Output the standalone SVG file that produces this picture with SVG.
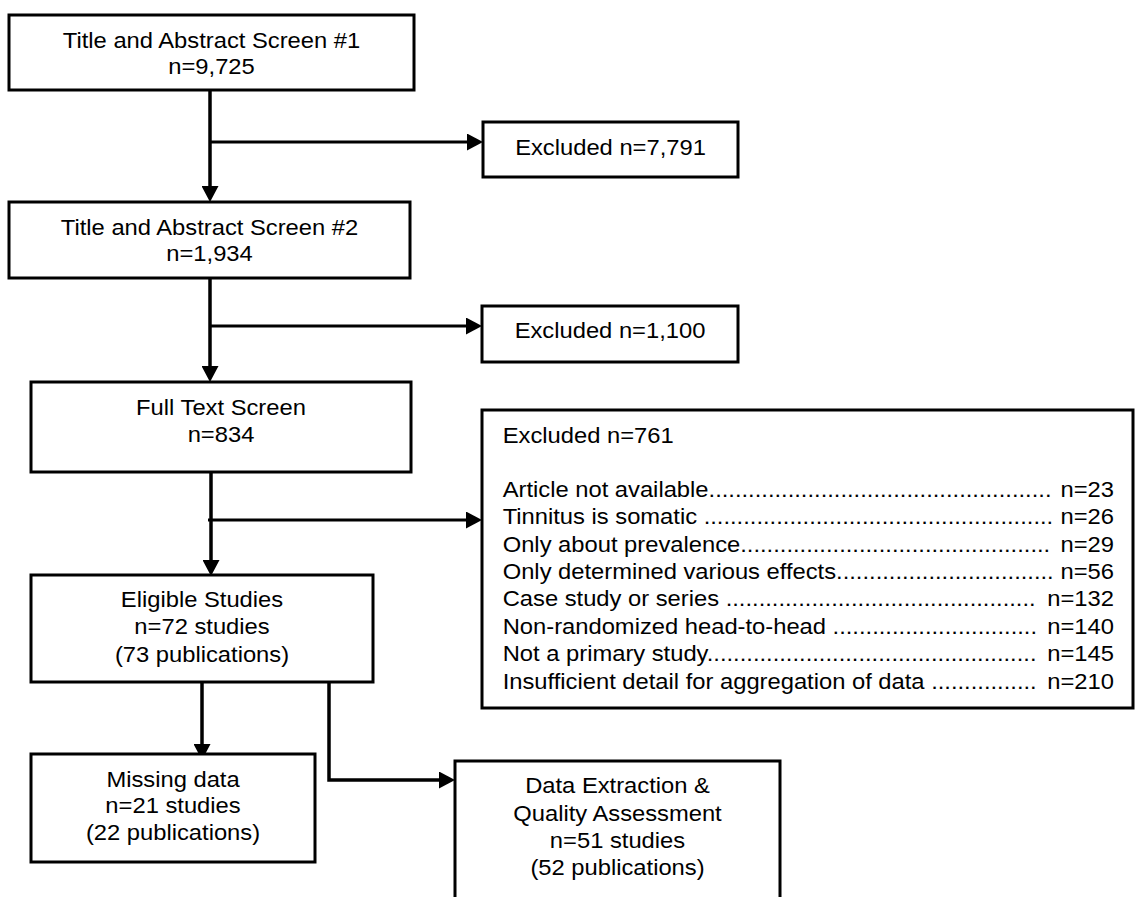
<svg xmlns="http://www.w3.org/2000/svg" width="1136" height="897" viewBox="0 0 1136 897">
<style>
.box { fill: #fff; stroke: #000; stroke-width: 3; }
.t { font-family: "Liberation Sans", Arial, sans-serif; font-size: 22px; fill: #000; }
.c { text-anchor: middle; }
.e { text-anchor: end; }
.conn line, .conn path { stroke: #000; stroke-width: 3.5; fill: none; }
.conn .h { stroke-width: 3; }
</style>
<defs>
<marker id="arr" markerUnits="userSpaceOnUse" markerWidth="16" markerHeight="17" refX="0" refY="8.5" orient="auto" viewBox="0 0 16 17">
<path d="M0,0 L16,8.5 L0,17 z" fill="#000"/>
</marker>
</defs>
<rect x="0" y="0" width="1136" height="897" fill="#fff"/>

<g id="connectors" class="conn">
<line x1="210" y1="91" x2="210" y2="186" marker-end="url(#arr)"/>
<line class="h" x1="209" y1="142" x2="467" y2="142" marker-end="url(#arr)"/>
<line x1="210" y1="279" x2="210" y2="366" marker-end="url(#arr)"/>
<line class="h" x1="209" y1="326" x2="466" y2="326" marker-end="url(#arr)"/>
<line x1="211" y1="473" x2="211" y2="560" marker-end="url(#arr)"/>
<line class="h" x1="208" y1="520" x2="466" y2="520" marker-end="url(#arr)"/>
<line x1="202" y1="682" x2="202" y2="744" marker-end="url(#arr)"/>
<path d="M329,682 V780 H439" marker-end="url(#arr)"/>
</g>

<g id="screen1">
<rect class="box" x="9" y="15" width="405" height="75"/>
<text class="t c" transform="translate(211.5,0) scale(1.08,1)"><tspan x="0" y="48">Title and Abstract Screen #1</tspan><tspan x="0" y="74">n=9,725</tspan></text>
</g>

<g id="excluded1">
<rect class="box" x="483" y="122" width="255" height="55"/>
<text class="t c" transform="translate(610.5,0) scale(1.08,1)" x="0" y="155">Excluded n=7,791</text>
</g>

<g id="screen2">
<rect class="box" x="9" y="202" width="401" height="76"/>
<text class="t c" transform="translate(209.5,0) scale(1.08,1)"><tspan x="0" y="235">Title and Abstract Screen #2</tspan><tspan x="0" y="261.5">n=1,934</tspan></text>
</g>

<g id="excluded2">
<rect class="box" x="482" y="306" width="256" height="56"/>
<text class="t c" transform="translate(610,0) scale(1.08,1)" x="0" y="338.5">Excluded n=1,100</text>
</g>

<g id="fulltext">
<rect class="box" x="31" y="382" width="380" height="90"/>
<text class="t c" transform="translate(221,0) scale(1.08,1)"><tspan x="0" y="415">Full Text Screen</tspan><tspan x="0" y="442.5">n=834</tspan></text>
</g>

<g id="excluded3">
<rect class="box" x="482" y="410" width="651" height="298"/>
<g transform="translate(502.7,0) scale(1.08,1)">
<text class="t" x="0" y="442.7">Excluded n=761</text>
<text class="t" x="0" y="497">Article not available....................................................</text>
<text class="t e" x="566" y="497">n=23</text>
<text class="t" x="0" y="524.5">Tinnitus is somatic .....................................................</text>
<text class="t e" x="566" y="524.5">n=26</text>
<text class="t" x="0" y="552">Only about prevalence...............................................</text>
<text class="t e" x="566" y="552">n=29</text>
<text class="t" x="0" y="579">Only determined various effects.................................</text>
<text class="t e" x="566" y="579">n=56</text>
<text class="t" x="0" y="606.5">Case study or series ...............................................</text>
<text class="t e" x="566" y="606.5">n=132</text>
<text class="t" x="0" y="634">Non-randomized head-to-head ...............................</text>
<text class="t e" x="566" y="634">n=140</text>
<text class="t" x="0" y="661.5">Not a primary study..................................................</text>
<text class="t e" x="566" y="661.5">n=145</text>
<text class="t" x="0" y="689">Insufficient detail for aggregation of data ................</text>
<text class="t e" x="566" y="689">n=210</text>
</g>
</g>

<g id="eligible">
<rect class="box" x="31" y="575" width="342" height="107"/>
<text class="t c" transform="translate(202,0) scale(1.08,1)"><tspan x="0" y="606.7">Eligible Studies</tspan><tspan x="0" y="634.3">n=72 studies</tspan><tspan x="0" y="661.7">(73 publications)</tspan></text>
</g>

<g id="missing">
<rect class="box" x="31" y="754" width="284" height="108"/>
<text class="t c" transform="translate(173,0) scale(1.08,1)"><tspan x="0" y="786.7">Missing data</tspan><tspan x="0" y="813.3">n=21 studies</tspan><tspan x="0" y="840">(22 publications)</tspan></text>
</g>

<g id="extraction">
<rect class="box" x="455" y="761" width="325" height="150"/>
<text class="t c" transform="translate(617.5,0) scale(1.08,1)"><tspan x="0" y="793.3">Data Extraction &amp;</tspan><tspan x="0" y="820.7">Quality Assessment</tspan><tspan x="0" y="848.3">n=51 studies</tspan><tspan x="0" y="875">(52 publications)</tspan></text>
</g>
</svg>
